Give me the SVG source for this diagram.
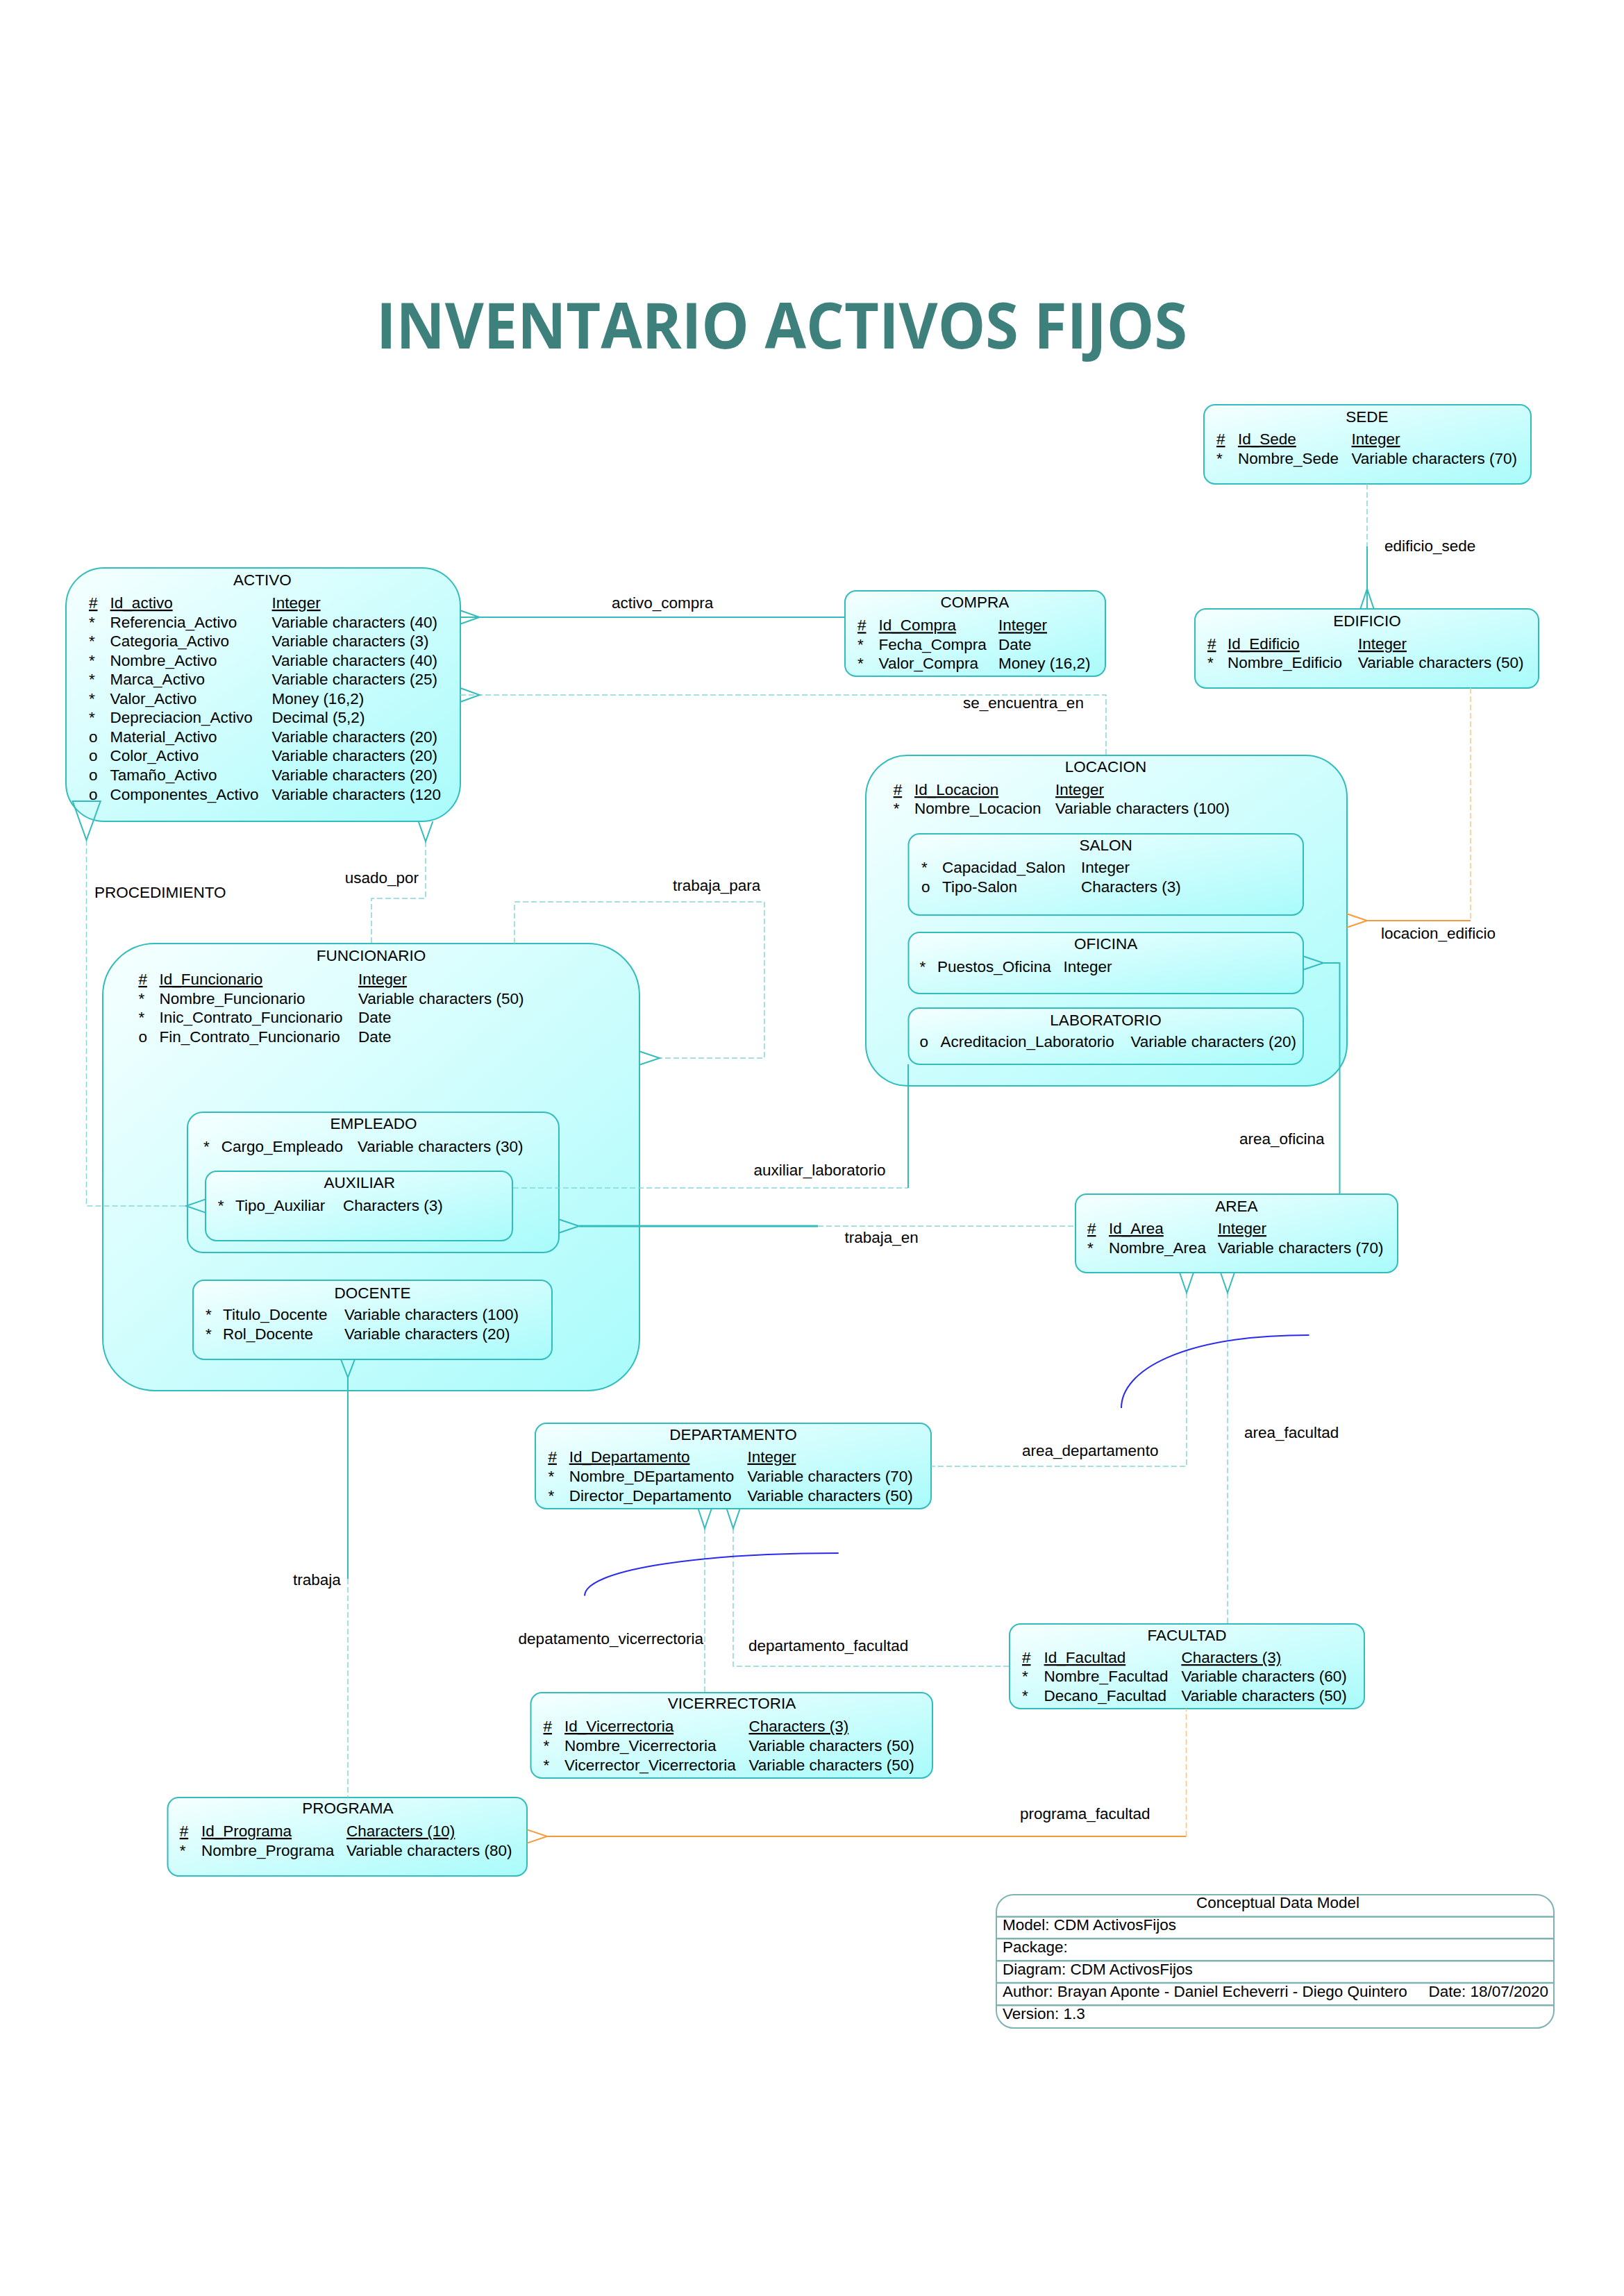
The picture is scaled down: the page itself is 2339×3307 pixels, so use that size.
<svg xmlns="http://www.w3.org/2000/svg" width="2339" height="3307" viewBox="0 0 2339 3307">
<defs>
<linearGradient id="g" x1="0" y1="0" x2="1" y2="1">
<stop offset="0" stop-color="#f6ffff"/>
<stop offset="1" stop-color="#a9fbfb"/>
</linearGradient>
<style>
.box{fill:url(#g);stroke:#33bcbc;stroke-width:2}
.t{font-family:"Liberation Sans",Arial,sans-serif;font-size:22.5px;fill:#000}
.c{text-anchor:middle}
.r{text-anchor:end}
.u{text-decoration:underline}
.sol{stroke:#34bcbc;stroke-width:2;fill:none}
.thk{stroke:#34bcbc;stroke-width:3;fill:none}
.das{stroke:#86d6d6;stroke-width:1.5;stroke-dasharray:8 4;fill:none}
.os{stroke:#f79a3a;stroke-width:2;fill:none}
.od{stroke:#fbc58a;stroke-width:1.5;stroke-dasharray:8 4;fill:none}
.cf{stroke:#34bcbc;stroke-width:2;fill:none}
.ocf{stroke:#f79a3a;stroke-width:2;fill:none}
.blue{stroke:#2a2aee;stroke-width:2;fill:none}
.title{font-family:"Open Sans","Liberation Sans",sans-serif;font-weight:bold;font-size:91px;fill:#3e807c}
</style>
</defs>
<rect width="2339" height="3307" fill="#ffffff"/>
<text class="title" x="542" y="502" textLength="1168" lengthAdjust="spacingAndGlyphs">INVENTARIO ACTIVOS FIJOS</text>

<g id="ACTIVO">
<rect class="box" x="95" y="818" width="568" height="365" rx="55" ry="55"/>
<text class="t c" x="378" y="843">ACTIVO</text>
<text class="t u" x="128" y="876">#</text><text class="t u" x="158.6" y="876">Id_activo</text><text class="t u" x="391.6" y="876">Integer</text>
<text class="t" x="128" y="903.6">*</text><text class="t" x="158.6" y="903.6">Referencia_Activo</text><text class="t" x="391.6" y="903.6">Variable characters (40)</text>
<text class="t" x="128" y="931.1">*</text><text class="t" x="158.6" y="931.1">Categoria_Activo</text><text class="t" x="391.6" y="931.1">Variable characters (3)</text>
<text class="t" x="128" y="958.7">*</text><text class="t" x="158.6" y="958.7">Nombre_Activo</text><text class="t" x="391.6" y="958.7">Variable characters (40)</text>
<text class="t" x="128" y="986.2">*</text><text class="t" x="158.6" y="986.2">Marca_Activo</text><text class="t" x="391.6" y="986.2">Variable characters (25)</text>
<text class="t" x="128" y="1013.8">*</text><text class="t" x="158.6" y="1013.8">Valor_Activo</text><text class="t" x="391.6" y="1013.8">Money (16,2)</text>
<text class="t" x="128" y="1041.3">*</text><text class="t" x="158.6" y="1041.3">Depreciacion_Activo</text><text class="t" x="391.6" y="1041.3">Decimal (5,2)</text>
<text class="t" x="128" y="1068.9">o</text><text class="t" x="158.6" y="1068.9">Material_Activo</text><text class="t" x="391.6" y="1068.9">Variable characters (20)</text>
<text class="t" x="128" y="1096.4">o</text><text class="t" x="158.6" y="1096.4">Color_Activo</text><text class="t" x="391.6" y="1096.4">Variable characters (20)</text>
<text class="t" x="128" y="1124">o</text><text class="t" x="158.6" y="1124">Tamaño_Activo</text><text class="t" x="391.6" y="1124">Variable characters (20)</text>
<text class="t" x="128" y="1151.5">o</text><text class="t" x="158.6" y="1151.5">Componentes_Activo</text><text class="t" x="391.6" y="1151.5">Variable characters (120</text>
</g>

<g id="COMPRA">
<rect class="box" x="1217" y="851" width="375" height="123" rx="16" ry="16"/>
<text class="t c" x="1404" y="875">COMPRA</text>
<text class="t u" x="1235" y="908.3">#</text><text class="t u" x="1265.6" y="908.3">Id_Compra</text><text class="t u" x="1438" y="908.3">Integer</text>
<text class="t" x="1235" y="936">*</text><text class="t" x="1265.6" y="936">Fecha_Compra</text><text class="t" x="1438" y="936">Date</text>
<text class="t" x="1235" y="963.3">*</text><text class="t" x="1265.6" y="963.3">Valor_Compra</text><text class="t" x="1438" y="963.3">Money (16,2)</text>
</g>

<g id="SEDE">
<rect class="box" x="1734" y="583" width="471" height="114" rx="16" ry="16"/>
<text class="t c" x="1969" y="608">SEDE</text>
<text class="t u" x="1752" y="640">#</text><text class="t u" x="1783" y="640">Id_Sede</text><text class="t u" x="1946.5" y="640">Integer</text>
<text class="t" x="1752" y="667.7">*</text><text class="t" x="1783" y="667.7">Nombre_Sede</text><text class="t" x="1946.5" y="667.7">Variable characters (70)</text>
</g>

<g id="EDIFICIO">
<rect class="box" x="1721" y="877" width="495" height="114" rx="16" ry="16"/>
<text class="t c" x="1969" y="901.7">EDIFICIO</text>
<text class="t u" x="1739" y="935">#</text><text class="t u" x="1768" y="935">Id_Edificio</text><text class="t u" x="1956" y="935">Integer</text>
<text class="t" x="1739" y="961.7">*</text><text class="t" x="1768" y="961.7">Nombre_Edificio</text><text class="t" x="1956" y="961.7">Variable characters (50)</text>
</g>

<g id="LOCACION">
<rect class="box" x="1247" y="1088" width="693" height="476" rx="60" ry="60"/>
<text class="t c" x="1592.6" y="1111.7">LOCACION</text>
<text class="t u" x="1286.7" y="1145">#</text><text class="t u" x="1317" y="1145">Id_Locacion</text><text class="t u" x="1520" y="1145">Integer</text>
<text class="t" x="1286.7" y="1172.3">*</text><text class="t" x="1317" y="1172.3">Nombre_Locacion</text><text class="t" x="1520" y="1172.3">Variable characters (100)</text>
</g>

<g id="SALON">
<rect class="box" x="1308.5" y="1201" width="568.5" height="117" rx="16" ry="16"/>
<text class="t c" x="1592.6" y="1225">SALON</text>
<text class="t" x="1327" y="1256.7">*</text><text class="t" x="1357" y="1256.7">Capacidad_Salon</text><text class="t" x="1557" y="1256.7">Integer</text>
<text class="t" x="1327" y="1285">o</text><text class="t" x="1357" y="1285">Tipo-Salon</text><text class="t" x="1557" y="1285">Characters (3)</text>
</g>

<g id="OFICINA">
<rect class="box" x="1308.5" y="1343" width="568.5" height="88" rx="16" ry="16"/>
<text class="t c" x="1592.6" y="1367.3">OFICINA</text>
<text class="t" x="1324.5" y="1400">*</text><text class="t" x="1350" y="1400">Puestos_Oficina</text><text class="t" x="1531.5" y="1400">Integer</text>
</g>

<g id="LABORATORIO">
<rect class="box" x="1308.5" y="1452" width="568.5" height="81" rx="16" ry="16"/>
<text class="t c" x="1592.6" y="1476.7">LABORATORIO</text>
<text class="t" x="1324.5" y="1508.3">o</text><text class="t" x="1354.6" y="1508.3">Acreditacion_Laboratorio</text><text class="t" x="1628.5" y="1508.3">Variable characters (20)</text>
</g>

<g id="FUNCIONARIO">
<rect class="box" x="148" y="1359" width="773" height="644" rx="75" ry="75"/>
<text class="t c" x="534.6" y="1384">FUNCIONARIO</text>
<text class="t u" x="199.4" y="1418">#</text><text class="t u" x="229.5" y="1418">Id_Funcionario</text><text class="t u" x="516" y="1418">Integer</text>
<text class="t" x="199.4" y="1445.5">*</text><text class="t" x="229.5" y="1445.5">Nombre_Funcionario</text><text class="t" x="516" y="1445.5">Variable characters (50)</text>
<text class="t" x="199.4" y="1473">*</text><text class="t" x="229.5" y="1473">Inic_Contrato_Funcionario</text><text class="t" x="516" y="1473">Date</text>
<text class="t" x="199.4" y="1500.5">o</text><text class="t" x="229.5" y="1500.5">Fin_Contrato_Funcionario</text><text class="t" x="516" y="1500.5">Date</text>
</g>

<g id="EMPLEADO">
<rect class="box" x="270" y="1602" width="535" height="202" rx="22" ry="22"/>
<text class="t c" x="538" y="1626">EMPLEADO</text>
<text class="t" x="293" y="1658.6">*</text><text class="t" x="318.8" y="1658.6">Cargo_Empleado</text><text class="t" x="515" y="1658.6">Variable characters (30)</text>
</g>

<g id="AUXILIAR">
<rect class="box" x="296" y="1687" width="442" height="100" rx="16" ry="16"/>
<text class="t c" x="517.8" y="1711">AUXILIAR</text>
<text class="t" x="313.7" y="1744">*</text><text class="t" x="339" y="1744">Tipo_Auxiliar</text><text class="t" x="494" y="1744">Characters (3)</text>
</g>

<g id="DOCENTE">
<rect class="box" x="278" y="1844" width="517" height="114" rx="16" ry="16"/>
<text class="t c" x="536.6" y="1869.5">DOCENTE</text>
<text class="t" x="296" y="1901">*</text><text class="t" x="321" y="1901">Titulo_Docente</text><text class="t" x="496" y="1901">Variable characters (100)</text>
<text class="t" x="296" y="1929">*</text><text class="t" x="321" y="1929">Rol_Docente</text><text class="t" x="496" y="1929">Variable characters (20)</text>
</g>

<g id="AREA">
<rect class="box" x="1549" y="1720" width="464" height="113" rx="16" ry="16"/>
<text class="t c" x="1781" y="1744.8">AREA</text>
<text class="t u" x="1566" y="1777">#</text><text class="t u" x="1597" y="1777">Id_Area</text><text class="t u" x="1754" y="1777">Integer</text>
<text class="t" x="1566" y="1804.5">*</text><text class="t" x="1597" y="1804.5">Nombre_Area</text><text class="t" x="1754" y="1804.5">Variable characters (70)</text>
</g>

<g id="DEPARTAMENTO">
<rect class="box" x="771" y="2050" width="570" height="123" rx="16" ry="16"/>
<text class="t c" x="1056" y="2073.6">DEPARTAMENTO</text>
<text class="t u" x="789.4" y="2105.7">#</text><text class="t u" x="819.7" y="2105.7">Id_Departamento</text><text class="t u" x="1076.4" y="2105.7">Integer</text>
<text class="t" x="789.4" y="2133.6">*</text><text class="t" x="819.7" y="2133.6">Nombre_DEpartamento</text><text class="t" x="1076.4" y="2133.6">Variable characters (70)</text>
<text class="t" x="789.4" y="2162">*</text><text class="t" x="819.7" y="2162">Director_Departamento</text><text class="t" x="1076.4" y="2162">Variable characters (50)</text>
</g>

<g id="FACULTAD">
<rect class="box" x="1454" y="2339" width="511" height="122" rx="16" ry="16"/>
<text class="t c" x="1709.5" y="2363">FACULTAD</text>
<text class="t u" x="1472" y="2395">#</text><text class="t u" x="1503.6" y="2395">Id_Facultad</text><text class="t u" x="1701.4" y="2395">Characters (3)</text>
<text class="t" x="1472" y="2422.4">*</text><text class="t" x="1503.6" y="2422.4">Nombre_Facultad</text><text class="t" x="1701.4" y="2422.4">Variable characters (60)</text>
<text class="t" x="1472" y="2450">*</text><text class="t" x="1503.6" y="2450">Decano_Facultad</text><text class="t" x="1701.4" y="2450">Variable characters (50)</text>
</g>

<g id="VICERRECTORIA">
<rect class="box" x="764.5" y="2438" width="578.5" height="123" rx="16" ry="16"/>
<text class="t c" x="1054" y="2461.4">VICERRECTORIA</text>
<text class="t u" x="782.5" y="2494">#</text><text class="t u" x="813" y="2494">Id_Vicerrectoria</text><text class="t u" x="1078.4" y="2494">Characters (3)</text>
<text class="t" x="782.5" y="2521.8">*</text><text class="t" x="813" y="2521.8">Nombre_Vicerrectoria</text><text class="t" x="1078.4" y="2521.8">Variable characters (50)</text>
<text class="t" x="782.5" y="2549.6">*</text><text class="t" x="813" y="2549.6">Vicerrector_Vicerrectoria</text><text class="t" x="1078.4" y="2549.6">Variable characters (50)</text>
</g>

<g id="PROGRAMA">
<rect class="box" x="241.5" y="2589" width="517.5" height="113" rx="16" ry="16"/>
<text class="t c" x="500.8" y="2611.7">PROGRAMA</text>
<text class="t u" x="258.7" y="2645">#</text><text class="t u" x="290" y="2645">Id_Programa</text><text class="t u" x="499" y="2645">Characters (10)</text>
<text class="t" x="258.7" y="2672.7">*</text><text class="t" x="290" y="2672.7">Nombre_Programa</text><text class="t" x="499" y="2672.7">Variable characters (80)</text>
</g>

<g id="connectors">
<line class="sol" x1="663" y1="889" x2="1217" y2="889"/>
<polyline class="cf" points="663,879.3 690.7,889 663,898.7"/>
<text class="t" x="881" y="876">activo_compra</text>
<polyline class="das" points="663,1001 1593,1001 1593,1088"/>
<polyline class="cf" points="663,991 690.7,1001 663,1011"/>
<text class="t" x="1387" y="1020">se_encuentra_en</text>
<line class="das" x1="1969" y1="697" x2="1969" y2="787"/>
<line class="sol" x1="1969" y1="787" x2="1969" y2="877"/>
<polyline class="cf" points="1959.3,877 1969,848 1978.7,877"/>
<text class="t" x="1994" y="794">edificio_sede</text>
<line class="od" x1="2118" y1="991" x2="2118" y2="1326"/>
<line class="os" x1="2118" y1="1326" x2="1969" y2="1326"/>
<polyline class="ocf" points="1940,1316.3 1969,1326 1940,1335.7"/>
<text class="t" x="1989" y="1352">locacion_edificio</text>
<polyline class="das" points="613,1212 613,1294 535,1294 535,1359"/>
<polyline class="cf" points="602.6,1183 613,1212 623.4,1183"/>
<text class="t r" x="603" y="1272">usado_por</text>
<polyline class="das" points="124.5,1210 124.5,1737 268,1737"/>
<polygon class="cf" points="104.6,1154 144.7,1154 124.5,1210"/>
<polyline class="cf" points="296,1727.4 268,1737 296,1746.6"/>
<text class="t" x="136" y="1293">PROCEDIMIENTO</text>
<polyline class="das" points="741,1359 741,1299 1101,1299 1101,1524 950,1524"/>
<polyline class="cf" points="921,1514.3 950,1524 921,1533.7"/>
<text class="t" x="969" y="1283">trabaja_para</text>
<line class="das" x1="739" y1="1711" x2="1308" y2="1711"/>
<line class="sol" x1="1308" y1="1711" x2="1308" y2="1533"/>
<text class="t" x="1085.5" y="1693">auxiliar_laboratorio</text>
<line class="thk" x1="834" y1="1766" x2="1178" y2="1766"/>
<line class="das" x1="1178" y1="1766" x2="1549" y2="1766"/>
<polyline class="cf" points="805,1756.3 834,1766 805,1775.7"/>
<text class="t" x="1216.5" y="1790">trabaja_en</text>
<polyline class="sol" points="1906,1387 1929.5,1387 1929.5,1720"/>
<polyline class="cf" points="1877,1377.3 1906,1387 1877,1396.7"/>
<text class="t" x="1785" y="1648">area_oficina</text>
<polyline class="das" points="1709,1862 1709,2112 1341,2112"/>
<polyline class="cf" points="1699,1833 1709,1862 1719,1833"/>
<text class="t" x="1472" y="2096.5">area_departamento</text>
<line class="das" x1="1768" y1="1862" x2="1768" y2="2339"/>
<polyline class="cf" points="1758,1833 1768,1862 1778,1833"/>
<text class="t" x="1792" y="2070.6">area_facultad</text>
<line class="das" x1="1015" y1="2201" x2="1015" y2="2438"/>
<polyline class="cf" points="1005.6,2173 1015,2201.4 1024.8,2173"/>
<text class="t r" x="1013" y="2367.5">depatamento_vicerrectoria</text>
<polyline class="das" points="1056,2201 1056,2400 1454,2400"/>
<polyline class="cf" points="1046.6,2173 1056,2201.4 1065.7,2173"/>
<text class="t" x="1078" y="2378">departamento_facultad</text>
<line class="sol" x1="501" y1="1984" x2="501" y2="2274"/>
<line class="das" x1="501" y1="2274" x2="501" y2="2589"/>
<polyline class="cf" points="491,1958 501,1984 511,1958"/>
<text class="t" x="422" y="2283">trabaja</text>
<line class="os" x1="788" y1="2645" x2="1708.5" y2="2645"/>
<line class="od" x1="1708.5" y1="2645" x2="1708.5" y2="2461"/>
<polyline class="ocf" points="759,2635.3 788,2645 759,2654.7"/>
<text class="t" x="1469" y="2620">programa_facultad</text>
<path class="blue" d="M1885.5,1923 C1700,1923 1615,1975 1615,2028"/>
<path class="blue" d="M1207.7,2237 C1000,2237 842,2262 842,2298.6"/>
</g>

<g id="INFO">
<rect x="1435" y="2729" width="803" height="192" rx="25" ry="25" fill="#ffffff" stroke="#7fb2b2" stroke-width="2"/>
<g stroke="#7fb2b2" stroke-width="2.5">
<line x1="1435" y1="2760.7" x2="2238" y2="2760.7"/>
<line x1="1435" y1="2792.3" x2="2238" y2="2792.3"/>
<line x1="1435" y1="2824.3" x2="2238" y2="2824.3"/>
<line x1="1435" y1="2856" x2="2238" y2="2856"/>
<line x1="1435" y1="2888.3" x2="2238" y2="2888.3"/>
</g>
<text class="t c" x="1840.5" y="2748.3">Conceptual Data Model</text>
<text class="t" x="1444" y="2780">Model: CDM ActivosFijos</text>
<text class="t" x="1444" y="2811.7">Package:</text>
<text class="t" x="1444" y="2844.3">Diagram: CDM ActivosFijos</text>
<text class="t" x="1444" y="2875.7">Author: Brayan Aponte - Daniel Echeverri - Diego Quintero</text>
<text class="t" x="2057.4" y="2875.7">Date: 18/07/2020</text>
<text class="t" x="1444" y="2908.3">Version: 1.3</text>
</g>
</svg>
